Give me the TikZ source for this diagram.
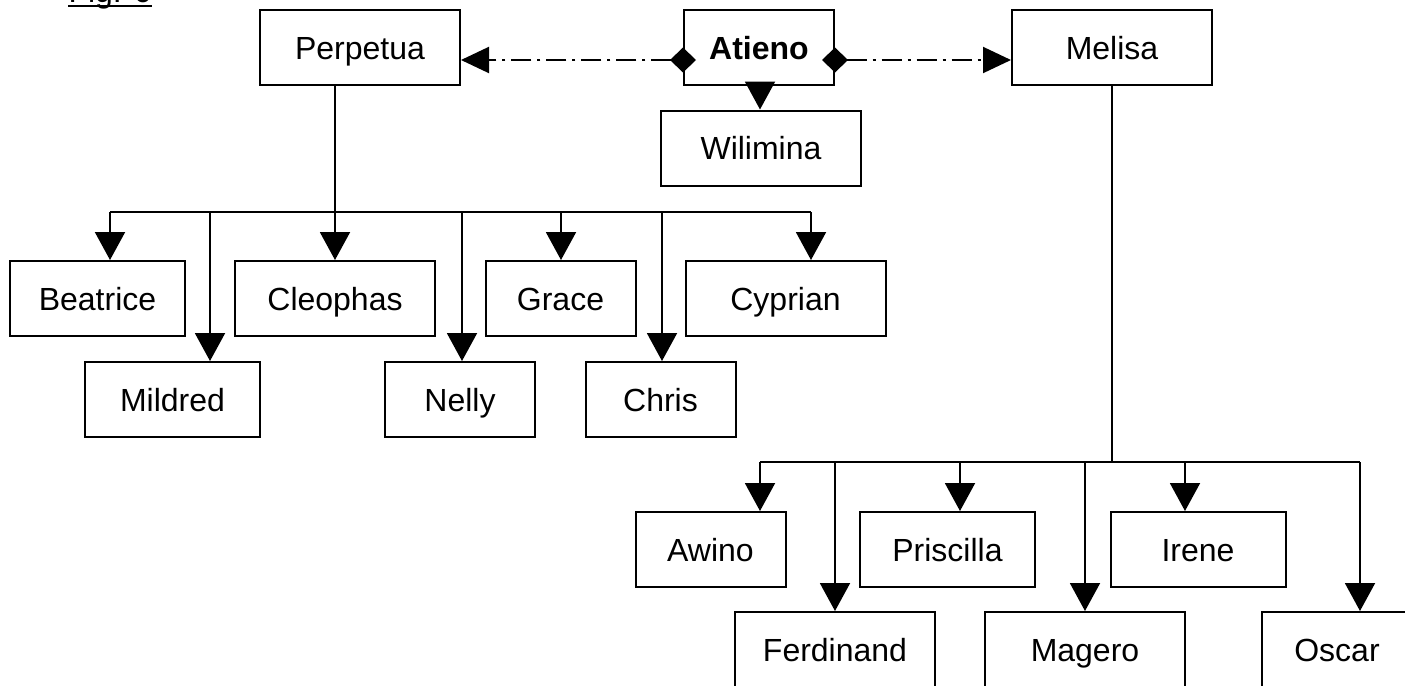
\documentclass[tikz,border=0pt]{standalone}
\usepackage{fontspec}
\setmainfont{Liberation Sans}
\usetikzlibrary{arrows.meta}
\begin{document}
\begin{tikzpicture}[x=0.5pt,y=-0.5pt,
  box/.style={draw, line width=1pt, inner sep=0pt, minimum height=37.5pt,
    text height=15pt, text depth=3.5pt,
    font=\fontsize{16pt}{19pt}\selectfont},
  wa/.style={box, minimum width=75pt},
  wb/.style={box, minimum width=87.5pt},
  wc/.style={box, minimum width=100pt},
  link/.style={line width=1pt},
  arr/.style={link, -{Triangle[length=14pt,width=15pt]}},
  rel/.style={link, dash pattern=on 10pt off 3pt on 1.5pt off 3pt,
    {Diamond[length=13pt,width=12.5pt]}-{Triangle[length=14pt,width=13pt]}}
]
\useasboundingbox (0,0) rectangle (1405,686);

% caption (cut off at top)
\node[anchor=base, inner sep=0pt, font=\fontsize{16pt}{19pt}\selectfont] (fig) at (110,2) {Fig. 6};
\draw[line width=1pt] ([shift={(0,4)}]fig.base west) -- ([shift={(0,4)}]fig.base east);

% top row
\node[wc] (Perpetua) at (360,47.5) {Perpetua};
\node[wa] (Atieno) at (759,47.5) {\bfseries Atieno};
\node[wc] (Melisa) at (1112,47.5) {Melisa};
\node[wc] (Wilimina) at (761,148) {Wilimina};

% Perpetua's children
\node[wb] (Beatrice) at (97.5,298.5) {Beatrice};
\node[wc] (Cleophas) at (335,298.5) {Cleophas};
\node[wa] (Grace) at (560.5,298.5) {Grace};
\node[wc] (Cyprian) at (785.5,298.5) {Cyprian};
\node[wb] (Mildred) at (172.5,399.5) {Mildred};
\node[wa] (Nelly) at (460,399.5) {Nelly};
\node[wa] (Chris) at (660.5,399.5) {Chris};

% Melisa's children
\node[wa] (Awino) at (710.5,549.5) {Awino};
\node[wb] (Priscilla) at (947.5,549.5) {Priscilla};
\node[wb] (Irene) at (1198,549.5) {Irene};
\node[wc] (Ferdinand) at (835,649.5) {Ferdinand};
\node[wc] (Magero) at (1085,649.5) {Magero};
\node[wa] (Oscar) at (1337,649.5) {Oscar};

% relations from Atieno
\draw[rel] ([shift={(13,51)}]Atieno.north west) -- ([shift={(0,51)}]Perpetua.north east);
\draw[rel] ([shift={(-13,51)}]Atieno.north east) -- ([shift={(0,51)}]Melisa.north west);
\draw[arr] (Atieno.south -| 760,0) -- (Wilimina.north -| 760,0);

% Perpetua tree
\coordinate (pB) at (110,212);
\coordinate (pM) at (210,212);
\coordinate (pC) at (335,212);
\coordinate (pN) at (462,212);
\coordinate (pG) at (561,212);
\coordinate (pH) at (662,212);
\coordinate (pY) at (811,212);
\draw[link] (Perpetua.south -| pC) -- (pC);
\draw[link] (pB) -- (pY);
\draw[arr] (pB) -- (pB |- Beatrice.north);
\draw[arr] (pM) -- (pM |- Mildred.north);
\draw[arr] (pC) -- (pC |- Cleophas.north);
\draw[arr] (pN) -- (pN |- Nelly.north);
\draw[arr] (pG) -- (pG |- Grace.north);
\draw[arr] (pH) -- (pH |- Chris.north);
\draw[arr] (pY) -- (pY |- Cyprian.north);

% Melisa tree
\coordinate (mA) at (760,462);
\coordinate (mF) at (835,462);
\coordinate (mP) at (960,462);
\coordinate (mJ) at (1112,462);
\coordinate (mM) at (1085,462);
\coordinate (mI) at (1185,462);
\coordinate (mO) at (1360,462);
\draw[link] (Melisa.south) -- (mJ);
\draw[link] (mA) -- (mO);
\draw[arr] (mA) -- (mA |- Awino.north);
\draw[arr] (mF) -- (mF |- Ferdinand.north);
\draw[arr] (mP) -- (mP |- Priscilla.north);
\draw[arr] (mM) -- (mM |- Magero.north);
\draw[arr] (mI) -- (mI |- Irene.north);
\draw[arr] (mO) -- (mO |- Oscar.north);
\end{tikzpicture}
\end{document}
